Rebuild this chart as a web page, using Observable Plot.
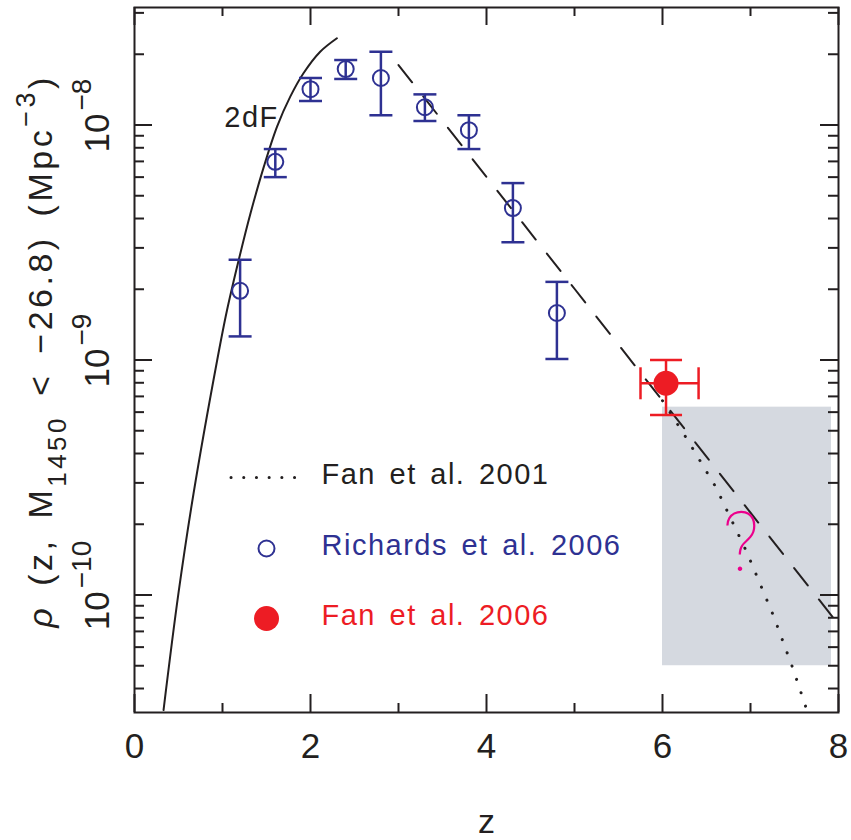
<!DOCTYPE html>
<html><head><meta charset="utf-8">
<script src="https://cdn.jsdelivr.net/npm/d3@7"></script>
<script src="https://cdn.jsdelivr.net/npm/@observablehq/plot@0.6"></script>
<style>
body{margin:0;background:#fff;}
</style></head><body><div id="chart"></div>
<script>
// ---------------- data ----------------
// Richards et al. 2006 (open circles with error bars)
const richZ   = [1.2, 1.6, 2.0, 2.4, 2.8, 3.3, 3.8, 4.3, 4.8];
const richRho = [1.97e-9, 6.97e-9, 1.42e-8, 1.73e-8, 1.585e-8, 1.19e-8, 9.5e-9, 4.43e-9, 1.585e-9];
const richLo  = [1.26e-9, 6.0e-9, 1.265e-8, 1.57e-8, 1.10e-8, 1.04e-8, 7.9e-9, 3.17e-9, 1.01e-9];
const richHi  = [2.67e-9, 7.9e-9, 1.585e-8, 1.89e-8, 2.05e-8, 1.35e-8, 1.10e-8, 5.66e-9, 2.15e-9];
// Fan et al. 2006 (filled red point)
const fanZ = [6.04], fanRho = [7.96e-10], fanLo = [5.83e-10], fanHi = [1.0e-9], fanZlo = [5.75], fanZhi = [6.41];
// 2dF curve (solid)
const tdfZ   = [0.33, 0.50, 0.67, 0.94, 1.05, 1.185, 1.32, 1.47, 1.62, 1.77, 1.92, 2.11, 2.30];
const tdfRho = [3.24e-11, 1.02e-10, 2.69e-10, 1.0e-9, 1.62e-9, 2.67e-9, 4.23e-9, 6.65e-9, 9.84e-9, 1.32e-8, 1.66e-8, 2.05e-8, 2.34e-8];
// dashed fit
const dashZ   = [3.0, 4.0, 5.0, 6.0, 7.0, 8.0];
const dashRho = [1.80e-8, 6.01e-9, 2.01e-9, 6.71e-10, 2.24e-10, 7.5e-11];
// Fan et al. 2001 (dotted)
const dotZ   = [6.0, 6.28, 6.61, 6.955, 7.265, 7.485, 7.64];
const dotRho = [6.71e-10, 4.60e-10, 2.86e-10, 1.53e-10, 8.09e-11, 4.83e-11, 3.24e-11];
// shaded region
const boxZ = [6.0, 7.92], boxRho = [5.0e-11, 6.3e-10];
// annotations
const curveLabel = [{label: "2dF", z: 1.02, rho: 9.8e-9}];
const qMark = [{label: "?", z: 6.89, rho: 1.26e-10}];
// ticks
const xMajor = [0, 2, 4, 6, 8];
const xMinor = [1, 3, 5, 7];
const yMajor = [1e-10, 1e-9, 1e-8];
const yMajorLabels = ["10−10", "10−9", "10−8"];
const yMinor = [4e-11,5e-11,6e-11,7e-11,8e-11,9e-11,2e-10,3e-10,4e-10,5e-10,6e-10,7e-10,8e-10,9e-10,2e-9,3e-9,4e-9,5e-9,6e-9,7e-9,8e-9,9e-9,2e-8,3e-8];
const yTitle = "ρ (z, M1450 < −26.8) (Mpc−3)";
const xTitle = "z";
const legendLabels = ["Fan et al. 2001", "Richards et al. 2006", "Fan et al. 2006"];

// ---------------- styling ----------------
const BLACK = "#231f20", BLUE = "#2e3192", RED = "#ed1c24", MAGENTA = "#ec008c", GREY = "#d5d9e0";
const FONT = "Liberation Sans, Arial, Helvetica, sans-serif";
const rich = richZ.map((z, i) => ({z, rho: richRho[i], lo: richLo[i], hi: richHi[i]}));
const fan = fanZ.map((z, i) => ({z, rho: fanRho[i], lo: fanLo[i], hi: fanHi[i], zlo: fanZlo[i], zhi: fanZhi[i]}));
const tdf = tdfZ.map((z, i) => ({z, rho: tdfRho[i]}));
const dash = dashZ.map((z, i) => ({z, rho: dashRho[i]}));
const dots = dotZ.map((z, i) => ({z, rho: dotRho[i]}));
const box = [{z1: boxZ[0], z2: boxZ[1], r1: boxRho[0], r2: boxRho[1]}];
const yTicks = yMajor.map((v, i) => ({v, label: yMajorLabels[i]}));

const hbar = {draw(ctx, size) { const r = Math.sqrt(size / Math.PI); ctx.moveTo(-r, 0); ctx.lineTo(r, 0); }};
const vbar = {draw(ctx, size) { const r = Math.sqrt(size / Math.PI); ctx.moveTo(0, -r); ctx.lineTo(0, r); }};

const W = 851, H = 840, mL = 134, mR = 13, mT = 7, mB = 128;
const fw = W - mL - mR, fh = H - mT - mB;
const midY = (mT + H - mB) / 2;

const svg = Plot.plot({
  width: W, height: H,
  marginLeft: mL, marginRight: mR, marginTop: mT, marginBottom: mB,
  style: {fontFamily: FONT, background: "#fff", color: BLACK},
  x: {domain: [0, 8], axis: null},
  y: {type: "log", domain: [Math.pow(10, -10.5), Math.pow(10, -7.5)], axis: null},
  marks: [
    Plot.rectY(box, {x1: "z1", x2: "z2", y1: "r1", y2: "r2", fill: GREY}),
    Plot.line(tdf, {x: "z", y: "rho", curve: "catmull-rom", stroke: BLACK, strokeWidth: 2, clip: true}),
    Plot.line(dash, {x: "z", y: "rho", stroke: BLACK, strokeWidth: 2, strokeDasharray: "22,18", clip: true}),
    Plot.line(dots, {x: "z", y: "rho", stroke: BLACK, strokeWidth: 3, strokeDasharray: "0.1,14", strokeLinecap: "round", clip: true}),
    // Richards points
    Plot.ruleX(rich, {x: "z", y1: "lo", y2: "hi", stroke: BLUE, strokeWidth: 2.5}),
    Plot.dot(rich, {x: "z", y: "lo", symbol: hbar, r: 11.5, stroke: BLUE, strokeWidth: 2.5, fill: "none"}),
    Plot.dot(rich, {x: "z", y: "hi", symbol: hbar, r: 11.5, stroke: BLUE, strokeWidth: 2.5, fill: "none"}),
    Plot.dot(rich, {x: "z", y: "rho", r: 8, stroke: BLUE, strokeWidth: 2, fill: "none"}),
    // Fan 2006 point
    Plot.ruleX(fan, {x: "z", y1: "lo", y2: "hi", stroke: RED, strokeWidth: 2.5}),
    Plot.ruleY(fan, {y: "rho", x1: "zlo", x2: "zhi", stroke: RED, strokeWidth: 2.5}),
    Plot.dot(fan, {x: "z", y: "lo", symbol: hbar, r: 16, stroke: RED, strokeWidth: 2.5, fill: "none"}),
    Plot.dot(fan, {x: "z", y: "hi", symbol: hbar, r: 16, stroke: RED, strokeWidth: 2.5, fill: "none"}),
    Plot.dot(fan, {x: "zlo", y: "rho", symbol: vbar, r: 16, stroke: RED, strokeWidth: 2.5, fill: "none"}),
    Plot.dot(fan, {x: "zhi", y: "rho", symbol: vbar, r: 16, stroke: RED, strokeWidth: 2.5, fill: "none"}),
    Plot.dot(fan, {x: "z", y: "rho", r: 12.5, fill: RED, stroke: "none"}),
    // annotations
    Plot.text(curveLabel, {x: "z", y: "rho", text: "label", textAnchor: "start", lineAnchor: "bottom", fontSize: 29, fill: BLACK, fontFamily: FONT}),
    Plot.text(qMark, {x: "z", y: "rho", text: "label", lineAnchor: "bottom", fontSize: 84, fill: MAGENTA, fontFamily: "Roboto, sans-serif", fontWeight: 100}),
    // legend
    Plot.ruleY([0], {y: null, insetLeft: 97, insetRight: fw - 171, dy: 477 - midY, stroke: BLACK, strokeWidth: 3, strokeDasharray: "0.1,12.6", strokeLinecap: "round"}),
    Plot.dot([0], {x: null, y: null, frameAnchor: "top-left", dx: 132, dy: 541, r: 8, stroke: BLUE, strokeWidth: 2, fill: "none"}),
    Plot.dot([0], {x: null, y: null, frameAnchor: "top-left", dx: 132, dy: 611, r: 12.5, fill: RED, stroke: "none"}),
    ...legendLabels.map((lab, i) => Plot.text([lab], {x: null, y: null, text: d => d, frameAnchor: "top-left", dx: 187, dy: [476, 547, 617][i], textAnchor: "start", lineAnchor: "bottom", fontSize: 29, fill: [BLACK, BLUE, RED][i], fontFamily: FONT})),
    // frame + inward ticks
    Plot.frame({stroke: BLACK, strokeWidth: 2}),
    Plot.tickX(xMajor, {x: d => d, insetTop: fh - 18, stroke: BLACK, strokeWidth: 2}),
    Plot.tickX(xMinor, {x: d => d, insetTop: fh - 9, stroke: BLACK, strokeWidth: 2}),
    Plot.tickX(xMajor, {x: d => d, insetBottom: fh - 18, stroke: BLACK, strokeWidth: 2}),
    Plot.tickX(xMinor, {x: d => d, insetBottom: fh - 9, stroke: BLACK, strokeWidth: 2}),
    Plot.tickY(yMajor, {y: d => d, insetRight: fw - 18, stroke: BLACK, strokeWidth: 2}),
    Plot.tickY(yMinor, {y: d => d, insetRight: fw - 10, stroke: BLACK, strokeWidth: 2}),
    Plot.tickY(yMajor, {y: d => d, insetLeft: fw - 18, stroke: BLACK, strokeWidth: 2}),
    Plot.tickY(yMinor, {y: d => d, insetLeft: fw - 10, stroke: BLACK, strokeWidth: 2}),
    // tick labels
    Plot.text(xMajor, {x: d => d, text: d => String(d), frameAnchor: "bottom", lineAnchor: "top", dy: 21, fontSize: 35, fill: BLACK, fontFamily: FONT}),
    Plot.text(yTicks, {y: "v", text: "label", frameAnchor: "left", rotate: -90, lineAnchor: "bottom", dx: -26, dy: -8, fontSize: 35, fill: BLACK, fontFamily: FONT}),
    // axis titles
    Plot.text([xTitle], {x: null, y: null, text: d => d, frameAnchor: "bottom", lineAnchor: "bottom", dy: 120, fontSize: 34, fill: BLACK, fontFamily: FONT}),
    Plot.text([yTitle], {x: null, y: null, text: d => d, frameAnchor: "left", rotate: -90, lineAnchor: "bottom", dx: -83, dy: -9, fontSize: 34, fill: BLACK, fontFamily: FONT})
  ]
});

document.getElementById("chart").appendChild(svg);

// ---- typographic post-processing: superscripts / subscripts ----
const NS = "http://www.w3.org/2000/svg";
function tspan(parent, txt, attrs) {
  const t = document.createElementNS(NS, "tspan");
  t.textContent = txt;
  for (const k in attrs) t.setAttribute(k, attrs[k]);
  parent.appendChild(t);
  return t;
}
function centerText(el) {
  const len = el.getComputedTextLength();
  el.setAttribute("text-anchor", "start");
  el.setAttribute("x", -len / 2);
}
d3.select(svg).selectAll("text").each(function () {
  const s = this.textContent;
  if (yMajorLabels.includes(s)) {
    this.textContent = "";
    tspan(this, s.slice(0, 2), {});
    tspan(this, s.slice(2), {dy: -18, dx: 3, "font-size": 28});
    centerText(this);
  } else if (s === yTitle) {
    this.textContent = "";
    this.setAttribute("letter-spacing", "3.5");
    this.setAttribute("word-spacing", "6");
    tspan(this, "ρ", {"font-style": "italic"});
    tspan(this, " (z, M", {});
    tspan(this, "1450", {dy: 14, "font-size": 26});
    tspan(this, " < −26.8) (Mpc", {dy: -14});
    tspan(this, "−3", {dy: -17, "font-size": 27});
    tspan(this, ")", {dy: 17});
    centerText(this);
  } else if (legendLabels.includes(s) || s === "2dF") {
    this.setAttribute("letter-spacing", "1.5");
    this.setAttribute("word-spacing", "4");
  }
});
</script>
</body></html>
